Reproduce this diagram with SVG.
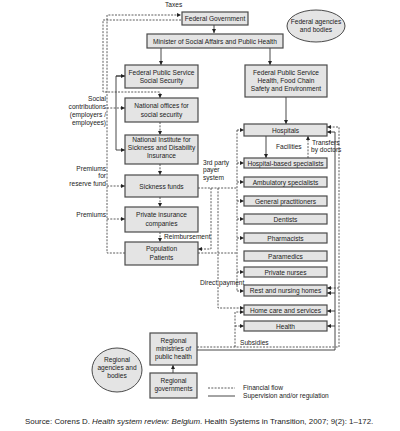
<svg xmlns="http://www.w3.org/2000/svg" width="400" height="431" viewBox="0 0 400 431">
<style>
.bx{fill:#e4e4e4;stroke:#4a4a4a;stroke-width:1.2}
.el{fill:#e4e4e4;stroke:#4a4a4a;stroke-width:1}
.t{font-family:"Liberation Sans Narrow","Liberation Sans",Arial,sans-serif;font-size:6.6px;fill:#222;text-anchor:middle}
.l{font-family:"Liberation Sans Narrow","Liberation Sans",Arial,sans-serif;font-size:6.6px;fill:#222}
.r{text-anchor:end}
.d{fill:none;stroke:#333;stroke-width:0.8;stroke-dasharray:2 1.3}
.s{fill:none;stroke:#333;stroke-width:0.9}
.src{font-family:"Liberation Sans",Arial,sans-serif;font-size:7.9px;fill:#222}
</style>
<defs>
<marker id="a" markerWidth="4" markerHeight="4" refX="4" refY="2" orient="auto" markerUnits="userSpaceOnUse"><path d="M0,0 L4,2 L0,4 z" fill="#222"/></marker>
</defs>
<g id="connectors">
<path class="s" d="M214,25 V33" marker-end="url(#a)"/>
<path class="s" d="M161,48 V65" marker-end="url(#a)"/>
<path class="s" d="M270,48 V65" marker-end="url(#a)"/>
<path class="s" d="M286,97 V124" marker-end="url(#a)"/>
<path class="s" d="M266,136 V158" marker-end="url(#a)"/>
<path class="s" d="M125,76 H116 V150 H125" marker-end="url(#a)"/>
<path class="s" d="M116,76 H125" marker-end="url(#a)"/>
<path class="s" d="M173,373 V365" marker-end="url(#a)"/>
<path class="d" d="M308,158 V136" marker-end="url(#a)"/>
<path class="d" d="M125,253 H107 V15 H181" marker-end="url(#a)"/>
<path class="d" d="M181,20 H103 V92 H160 V98" marker-end="url(#a)"/>
<path class="d" d="M107,108 H125" marker-end="url(#a)"/>
<path class="d" d="M107,186 H125" marker-end="url(#a)"/>
<path class="d" d="M107,219 H125" marker-end="url(#a)"/>
<path class="d" d="M160,122 V135" marker-end="url(#a)"/>
<path class="d" d="M160,164 V175" marker-end="url(#a)"/>
<path class="d" d="M160,197 V207" marker-end="url(#a)"/>
<path class="d" d="M160,232 V242" marker-end="url(#a)"/>
<path class="d" d="M198,188 H237"/>
<path class="d" d="M211,188 V249 H198" marker-end="url(#a)"/>
<path class="d" d="M218,188 V308 H244" marker-end="url(#a)"/>
<path class="d" d="M198,253 H237"/>
<path class="d" d="M237,130 V291"/>
<path class="d" d="M237,130 H244" marker-end="url(#a)"/>
<path class="d" d="M237,163 H244" marker-end="url(#a)"/>
<path class="d" d="M237,182 H244" marker-end="url(#a)"/>
<path class="d" d="M237,201 H244" marker-end="url(#a)"/>
<path class="d" d="M237,219 H244" marker-end="url(#a)"/>
<path class="d" d="M237,238 H244" marker-end="url(#a)"/>
<path class="d" d="M237,272 H244" marker-end="url(#a)"/>
<path class="d" d="M237,291 H244" marker-end="url(#a)"/>
<path class="d" d="M197,347 H339 V127 H327" marker-end="url(#a)"/>
<path class="s" d="M197,350 H335 V132 H327" marker-end="url(#a)"/>
<path class="d" d="M339,288 H327" marker-end="url(#a)"/>
<path class="s" d="M335,293 H327" marker-end="url(#a)"/>
<path class="s" d="M335,311 H327" marker-end="url(#a)"/>
<path class="s" d="M335,326 H327" marker-end="url(#a)"/>
<path class="d" d="M235,347 V312 H244" marker-end="url(#a)"/>
<path class="d" d="M235,326 H244" marker-end="url(#a)"/>
<path class="d" d="M208,388 H235"/>
<path class="s" d="M208,396 H235"/>
</g>
<g id="labels">
<text class="l" x="165" y="7">Taxes</text>
<text class="l r" x="106" y="101">Social</text>
<text class="l r" x="106" y="109">contributions</text>
<text class="l r" x="106" y="117">(employers /</text>
<text class="l r" x="106" y="125">employees)</text>
<text class="l r" x="106" y="171">Premiums</text>
<text class="l r" x="106" y="178">for</text>
<text class="l r" x="106" y="186">reserve fund</text>
<text class="l r" x="106" y="217">Premiums</text>
<text class="l" x="164" y="239">Reimbursement</text>
<text class="l" x="203" y="165">3rd party</text>
<text class="l" x="203" y="172">payer</text>
<text class="l" x="203" y="180">system</text>
<text class="l" x="276" y="149">Facilities</text>
<text class="l" x="312" y="145">Transfers</text>
<text class="l" x="311" y="152">by doctors</text>
<text class="l" x="200" y="285">Direct payment</text>
<text class="l" x="240" y="345">Subsidies</text>
<text class="l" x="243" y="390">Financial flow</text>
<text class="l" x="243" y="398">Supervision and/or regulation</text>
</g>
<g id="federal-government"><rect class="bx" x="182" y="12" width="66" height="13"/><text class="t" x="215" y="21">Federal Government</text></g>
<g id="federal-agencies"><ellipse class="el" cx="316" cy="26" rx="29" ry="16"/><text class="t" x="316" y="24">Federal agencies</text><text class="t" x="316" y="32">and bodies</text></g>
<g id="minister"><rect class="bx" x="147" y="34" width="136" height="14"/><text class="t" x="215" y="43.5">Minister of Social Affairs and Public Health</text></g>
<g id="fps-social-security"><rect class="bx" x="125" y="65" width="73" height="23"/><text class="t" x="161.5" y="74.5">Federal Public Service</text><text class="t" x="161.5" y="83">Social Security</text></g>
<g id="fps-health"><rect class="bx" x="245" y="65" width="82" height="32"/><text class="t" x="286" y="75">Federal Public Service</text><text class="t" x="286" y="83">Health, Food Chain</text><text class="t" x="286" y="91">Safety and Environment</text></g>
<g id="national-offices"><rect class="bx" x="125" y="98" width="73" height="24"/><text class="t" x="161.5" y="108">National offices for</text><text class="t" x="161.5" y="117">social security</text></g>
<g id="nisdi"><rect class="bx" x="125" y="135" width="73" height="29"/><text class="t" x="161.5" y="142">National Institute for</text><text class="t" x="161.5" y="150">Sickness and Disability</text><text class="t" x="161.5" y="158">Insurance</text></g>
<g id="sickness-funds"><rect class="bx" x="125" y="175" width="73" height="22"/><text class="t" x="161.5" y="188.5">Sickness funds</text></g>
<g id="private-insurance"><rect class="bx" x="125" y="207" width="73" height="25"/><text class="t" x="161.5" y="217">Private insurance</text><text class="t" x="161.5" y="225.5">companies</text></g>
<g id="population"><rect class="bx" x="125" y="242" width="73" height="23"/><text class="t" x="161.5" y="251">Population</text><text class="t" x="161.5" y="259.5">Patients</text></g>
<g id="hospitals"><rect class="bx" x="244" y="124" width="83" height="12"/><text class="t" x="285.5" y="132.5">Hospitals</text></g>
<g id="hospital-specialists"><rect class="bx" x="244" y="158" width="83" height="10"/><text class="t" x="285.5" y="165.5">Hospital-based specialists</text></g>
<g id="ambulatory-specialists"><rect class="bx" x="244" y="177" width="83" height="10"/><text class="t" x="285.5" y="184.5">Ambulatory specialists</text></g>
<g id="general-practitioners"><rect class="bx" x="244" y="196" width="83" height="10"/><text class="t" x="285.5" y="203.5">General practitioners</text></g>
<g id="dentists"><rect class="bx" x="244" y="214" width="83" height="10"/><text class="t" x="285.5" y="221.5">Dentists</text></g>
<g id="pharmacists"><rect class="bx" x="244" y="233" width="83" height="10"/><text class="t" x="285.5" y="240.5">Pharmacists</text></g>
<g id="paramedics"><rect class="bx" x="244" y="251" width="83" height="10"/><text class="t" x="285.5" y="258.5">Paramedics</text></g>
<g id="private-nurses"><rect class="bx" x="244" y="267" width="83" height="10"/><text class="t" x="285.5" y="274.5">Private nurses</text></g>
<g id="rest-nursing-homes"><rect class="bx" x="244" y="285" width="83" height="11"/><text class="t" x="285.5" y="293">Rest and nursing homes</text></g>
<g id="home-care"><rect class="bx" x="244" y="305" width="83" height="10"/><text class="t" x="285.5" y="312.5">Home care and services</text></g>
<g id="health"><rect class="bx" x="244" y="321" width="83" height="10"/><text class="t" x="285.5" y="328.5">Health</text></g>
<g id="regional-ministries"><rect class="bx" x="150" y="333" width="47" height="32"/><text class="t" x="173.5" y="343">Regional</text><text class="t" x="173.5" y="351">ministries of</text><text class="t" x="173.5" y="359">public health</text></g>
<g id="regional-governments"><rect class="bx" x="150" y="373" width="47" height="25"/><text class="t" x="173.5" y="383">Regional</text><text class="t" x="173.5" y="391">governments</text></g>
<g id="regional-agencies"><ellipse class="el" cx="117" cy="370" rx="25" ry="22"/><text class="t" x="117" y="362">Regional</text><text class="t" x="117" y="370">agencies and</text><text class="t" x="117" y="378">bodies</text></g>
<text class="src" x="25" y="424">Source: Corens D. <tspan font-style="italic">Health system review: Belgium</tspan>. Health Systems in Transition, 2007; 9(2): 1–172.</text>
</svg>
